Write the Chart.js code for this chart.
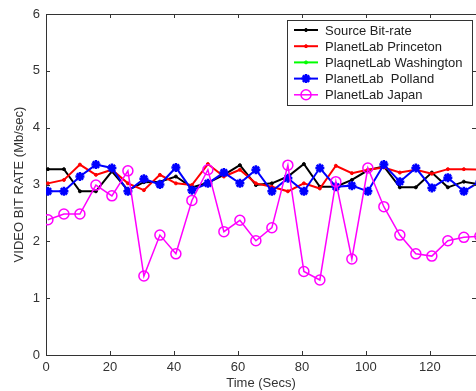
<!DOCTYPE html>
<html>
<head>
<meta charset="utf-8">
<script src="https://cdn.jsdelivr.net/npm/chart.js@4.4.1/dist/chart.umd.min.js"></script>
<style>
  html, body { margin: 0; padding: 0; background: #fff; }
  #wrap { width: 476px; height: 391px; }
</style>
</head>
<body>
<div id="wrap"><canvas id="chart"></canvas></div>
<script>
// sample times (secs)
const times = [0.6, 5.6, 10.6, 15.6, 20.6, 25.6, 30.6, 35.6, 40.6, 45.6,
               50.6, 55.6, 60.6, 65.6, 70.6, 75.6, 80.6, 85.6, 90.6, 95.6,
               100.6, 105.6, 110.6, 115.6, 120.6, 125.6, 130.6, 135.6];

// bit rates (Mb/sec)
const sourceRate = [3.27, 3.27, 2.88, 2.88, 3.23, 2.90, 3.04, 3.05, 3.14, 2.95,
                    3.03, 3.17, 3.34, 2.99, 3.02, 3.14, 3.36, 2.96, 2.96, 3.08,
                    3.25, 3.32, 2.95, 2.95, 3.21, 2.95, 3.05, 3.00];
const princeton = [3.02, 3.08, 3.35, 3.17, 3.26, 3.02, 2.90, 3.17, 3.02, 2.99,
                   3.36, 3.14, 3.26, 3.02, 2.96, 2.88, 3.02, 2.93, 3.33, 3.20,
                   3.26, 3.30, 3.21, 3.26, 3.19, 3.27, 3.27, 3.26];
const washington = []; // not visible in the plot, legend only
const polland = [2.88, 2.88, 3.14, 3.35, 3.29, 2.88, 3.10, 3.00, 3.30, 2.90,
                 3.02, 3.21, 3.02, 3.26, 2.88, 3.11, 2.88, 3.29, 2.96, 2.98,
                 2.88, 3.35, 3.05, 3.29, 2.94, 3.12, 2.88, 3.05];
const japan = [2.38, 2.48, 2.48, 2.99, 2.80, 3.24, 1.39, 2.11, 1.78, 2.72,
               3.26, 2.17, 2.37, 2.01, 2.24, 3.34, 1.47, 1.32, 3.05, 1.69,
               3.29, 2.61, 2.11, 1.78, 1.74, 2.01, 2.07, 2.09];

const seriesNames = ['Source Bit-rate', 'PlanetLab Princeton', 'PlaqnetLab Washington',
                     'PlanetLab  Polland', 'PlanetLab Japan'];

const xTicks = [0, 20, 40, 60, 80, 100, 120];
const yTicks = [0, 1, 2, 3, 4, 5, 6];

const axisColor = '#333';
const fontFamily = '"Liberation Sans", Arial, sans-serif';

function pts(values) {
  return values.map((v, i) => ({ x: times[i], y: v }));
}

// MATLAB style ticks pointing inward, plus the top border
const innerTicks = {
  id: 'innerTicks',
  afterDraw(chart) {
    const { ctx, chartArea: a, scales: { x, y } } = chart;
    ctx.save();
    ctx.strokeStyle = axisColor;
    ctx.lineWidth = 1;
    ctx.beginPath();
    x.ticks.forEach(t => {
      const px = Math.round(x.getPixelForValue(t.value)) + 0.5;
      ctx.moveTo(px, a.bottom); ctx.lineTo(px, a.bottom - 4);
      ctx.moveTo(px, a.top); ctx.lineTo(px, a.top + 4);
    });
    y.ticks.forEach(t => {
      const py = Math.round(y.getPixelForValue(t.value)) + 0.5;
      ctx.moveTo(a.left, py); ctx.lineTo(a.left + 4, py);
      ctx.moveTo(a.right, py); ctx.lineTo(a.right - 4, py);
    });
    ctx.moveTo(a.left, a.top + 0.5);
    ctx.lineTo(a.right, a.top + 0.5);
    ctx.stroke();
    ctx.restore();
  }
};

// legend box inside the plot, top right
const boxLegend = {
  id: 'boxLegend',
  afterDraw(chart) {
    const { ctx, chartArea: a } = chart;
    const w = 185, h = 85;
    const left = a.right - w - 4, top = a.top + 6;
    ctx.save();
    ctx.fillStyle = '#fff';
    ctx.fillRect(left, top, w, h);
    ctx.strokeStyle = axisColor;
    ctx.lineWidth = 1;
    ctx.strokeRect(left + 0.5, top + 0.5, w, h);
    ctx.font = '13px ' + fontFamily;
    ctx.textBaseline = 'middle';
    chart.data.datasets.forEach((ds, i) => {
      const cy = top + 10 + i * 16.2;
      ctx.strokeStyle = ds.borderColor;
      ctx.lineWidth = ds.borderWidth;
      ctx.beginPath();
      ctx.moveTo(left + 7, cy);
      ctx.lineTo(left + 31, cy);
      ctx.stroke();
      ctx.fillStyle = ds.pointBackgroundColor;
      ctx.strokeStyle = ds.borderColor;
      ctx.lineWidth = ds.pointBorderWidth;
      Chart.helpers.drawPoint(ctx, {
        pointStyle: ds.pointStyle, radius: ds.pointRadius,
        rotation: 0, borderWidth: ds.pointBorderWidth
      }, left + 19, cy);
      ctx.fillStyle = '#222';
      ctx.fillText(ds.label, left + 38, cy + 1);
    });
    ctx.restore();
  }
};

const datasets = [
  { label: seriesNames[0], data: pts(sourceRate), borderColor: '#000', borderWidth: 2,
    pointStyle: 'circle', pointRadius: 1.5, pointBackgroundColor: '#000', pointBorderWidth: 1, order: 4 },
  { label: seriesNames[1], data: pts(princeton), borderColor: '#f00', borderWidth: 2,
    pointStyle: 'circle', pointRadius: 1.5, pointBackgroundColor: '#f00', pointBorderWidth: 1, order: 3 },
  { label: seriesNames[2], data: pts(washington), borderColor: '#0f0', borderWidth: 2,
    pointStyle: 'circle', pointRadius: 1.5, pointBackgroundColor: '#0f0', pointBorderWidth: 1, order: 2 },
  { label: seriesNames[3], data: pts(polland), borderColor: '#00f', borderWidth: 2,
    pointStyle: 'star', pointRadius: 4.5, pointBackgroundColor: '#00f', pointBorderWidth: 2.5, order: 1 },
  { label: seriesNames[4], data: pts(japan), borderColor: '#f0f', borderWidth: 1.5,
    pointStyle: 'circle', pointRadius: 5, pointBackgroundColor: 'rgba(0,0,0,0)', pointBorderWidth: 1.5, order: 0 }
];

new Chart(document.getElementById('chart'), {
  type: 'line',
  data: { datasets },
  plugins: [innerTicks, boxLegend],
  options: {
    responsive: true,
    maintainAspectRatio: false,
    animation: false,
    layout: { autoPadding: false, padding: { top: 14, right: 0, left: 0, bottom: 0 } },
    elements: { line: { tension: 0 } },
    scales: {
      x: {
        type: 'linear',
        min: 0,
        max: 134.4,
        afterBuildTicks: s => { s.ticks = xTicks.map(v => ({ value: v })); },
        afterFit: s => { s.height = 36; s.paddingLeft = 0; s.paddingRight = 0; },
        grid: { display: false, drawTicks: false },
        border: { color: axisColor, width: 1 },
        ticks: { color: axisColor, font: { family: fontFamily, size: 13 }, padding: 5, maxRotation: 0 },
        title: { display: true, text: 'Time (Secs)', color: axisColor,
                 font: { family: fontFamily, size: 13 }, padding: { top: 0, bottom: 0 } }
      },
      y: {
        min: 0,
        max: 6,
        afterBuildTicks: s => { s.ticks = yTicks.map(v => ({ value: v })); },
        afterFit: s => { s.width = 46; s.paddingTop = 0; s.paddingBottom = 0; },
        grid: { display: false, drawTicks: false },
        border: { color: axisColor, width: 1 },
        ticks: { color: axisColor, font: { family: fontFamily, size: 13 }, padding: 6 },
        title: { display: true, text: 'VIDEO BIT RATE (Mb/sec)', color: axisColor,
                 font: { family: fontFamily, size: 13 }, padding: { top: 12, bottom: 0 } }
      }
    },
    plugins: {
      legend: { display: false },
      tooltip: { enabled: false }
    }
  }
});
</script>
</body>
</html>
